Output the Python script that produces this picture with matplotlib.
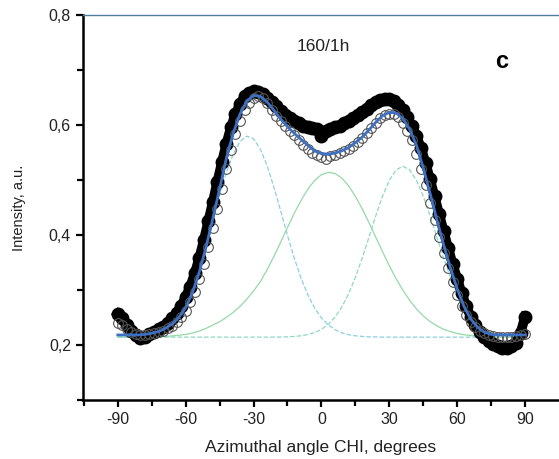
import numpy as np
import matplotlib
matplotlib.use('Agg')
import matplotlib.pyplot as plt
from matplotlib.ticker import MultipleLocator, FuncFormatter

plt.rcParams['font.family'] = ['Liberation Sans', 'DejaVu Sans']
plt.rcParams['axes.unicode_minus'] = False

# measured data, 2 degree steps
chi_data = np.arange(-90, 91, 2)
black_pts = [0.256, 0.248, 0.236, 0.225, 0.217, 0.213, 0.215, 0.220, 0.224, 0.228,
             0.233, 0.240, 0.248, 0.258, 0.271, 0.287, 0.306, 0.330, 0.358, 0.390,
             0.425, 0.460, 0.497, 0.532, 0.566, 0.596, 0.620, 0.638, 0.652, 0.659,
             0.662, 0.661, 0.656, 0.650, 0.642, 0.634, 0.625, 0.619, 0.613, 0.608,
             0.603, 0.599, 0.596, 0.594, 0.592, 0.580, 0.590, 0.593, 0.596, 0.599,
             0.603, 0.607, 0.612, 0.618, 0.624, 0.630, 0.637, 0.642, 0.646, 0.648,
             0.647, 0.643, 0.636, 0.628, 0.614, 0.598, 0.580, 0.558, 0.531, 0.501,
             0.470, 0.438, 0.407, 0.376, 0.347, 0.320, 0.294, 0.270, 0.251, 0.236,
             0.224, 0.214, 0.207, 0.202, 0.198, 0.195, 0.195, 0.197, 0.203, 0.222,
             0.251]
open_pts = [0.240, 0.236, 0.229, 0.224, 0.220, 0.218, 0.218, 0.219, 0.221, 0.223,
            0.226, 0.230, 0.235, 0.242, 0.251, 0.262, 0.278, 0.296, 0.320, 0.348,
            0.378, 0.412, 0.447, 0.484, 0.520, 0.554, 0.583, 0.607, 0.627, 0.641,
            0.650, 0.653, 0.649, 0.640, 0.628, 0.617, 0.607, 0.598, 0.590, 0.581,
            0.572, 0.564, 0.556, 0.549, 0.546, 0.542, 0.538, 0.543, 0.546, 0.549,
            0.553, 0.556, 0.562, 0.569, 0.576, 0.585, 0.595, 0.603, 0.612, 0.618,
            0.620, 0.620, 0.615, 0.604, 0.590, 0.572, 0.548, 0.520, 0.490, 0.459,
            0.428, 0.397, 0.368, 0.340, 0.315, 0.291, 0.270, 0.255, 0.242, 0.232,
            0.226, 0.221, 0.218, 0.216, 0.215, 0.214, 0.214, 0.215, 0.216, 0.218,
            0.220]

# fitted curve and its three components, 3 degree steps
chi_fit = np.arange(-90, 91, 3)
fit_total = [0.218, 0.218, 0.218, 0.218, 0.219, 0.221, 0.224, 0.230, 0.238, 0.250,
             0.268, 0.295, 0.332, 0.378, 0.430, 0.484, 0.540, 0.585, 0.620, 0.643,
             0.654, 0.652, 0.642, 0.627, 0.611, 0.597, 0.585, 0.574, 0.563, 0.553,
             0.548, 0.547, 0.549, 0.553, 0.559, 0.568, 0.578, 0.591, 0.605, 0.617,
             0.623, 0.622, 0.612, 0.592, 0.563, 0.522, 0.476, 0.428, 0.382, 0.340,
             0.302, 0.270, 0.247, 0.232, 0.223, 0.219, 0.218, 0.218, 0.218, 0.218,
             0.218]
peak_left = [0.214, 0.2145, 0.215, 0.216, 0.2177, 0.2206, 0.2254, 0.233, 0.2442, 0.2603,
             0.2821, 0.3104, 0.345, 0.385, 0.4286, 0.4727, 0.5137, 0.5472, 0.570, 0.5798,
             0.575, 0.556, 0.526, 0.4868, 0.4434, 0.3993, 0.3578, 0.3213, 0.2909, 0.2669,
             0.249, 0.2363, 0.2276, 0.222, 0.2185, 0.2164, 0.2153, 0.2146, 0.2143, 0.214,
             0.214, 0.214, 0.214, 0.214, 0.214, 0.214, 0.214, 0.214, 0.214, 0.214,
             0.214, 0.214, 0.214, 0.214, 0.214, 0.214, 0.214, 0.214, 0.214, 0.214,
             0.214]
peak_mid = [0.214, 0.214, 0.214, 0.214, 0.2141, 0.2143, 0.2146, 0.2152, 0.2162, 0.2175,
            0.219, 0.2215, 0.225, 0.230, 0.236, 0.242, 0.250, 0.259, 0.270, 0.283,
            0.298, 0.315, 0.337, 0.361, 0.387, 0.4136, 0.4394, 0.463, 0.4834, 0.4993,
            0.5097, 0.5139, 0.5118, 0.5034, 0.4893, 0.4703, 0.4476, 0.4224, 0.396, 0.3695,
            0.344, 0.3205, 0.2994, 0.2809, 0.2654, 0.2526, 0.2424, 0.2345, 0.2284, 0.2239,
            0.2207, 0.2184, 0.2169, 0.2158, 0.2151, 0.2147, 0.2144, 0.2142, 0.2141, 0.214,
            0.214]
peak_right = [0.214, 0.214, 0.214, 0.214, 0.214, 0.214, 0.214, 0.214, 0.214, 0.214,
              0.214, 0.214, 0.214, 0.214, 0.214, 0.214, 0.214, 0.214, 0.214, 0.214,
              0.214, 0.214, 0.214, 0.2141, 0.2143, 0.2146, 0.2153, 0.2165, 0.2187, 0.2223,
              0.2282, 0.2373, 0.2505, 0.2688, 0.2929, 0.3228, 0.3578, 0.396, 0.4347, 0.4704,
              0.4995, 0.5184, 0.525, 0.5184, 0.4995, 0.4704, 0.4347, 0.396, 0.3578, 0.3228,
              0.2929, 0.2688, 0.2505, 0.2373, 0.2282, 0.2223, 0.2187, 0.2165, 0.2153, 0.2146,
              0.2143]

fig = plt.figure(figsize=(5.59, 4.59), dpi=100)
ax = fig.add_axes([0.148, 0.129, 0.85, 0.838])

ax.plot(chi_fit, peak_left, '--', color='#8ccfe0', lw=0.9, zorder=1)
ax.plot(chi_fit, peak_mid, '-', color='#95d9a8', lw=0.9, zorder=1)
ax.plot(chi_fit, peak_right, '--', color='#8fd8c4', lw=0.9, zorder=1)

ax.plot(chi_data, black_pts, '-', color='black', lw=7, zorder=2)
ax.plot(chi_data, black_pts, 'o', color='black', ms=9, zorder=2)
ax.plot(chi_data, open_pts, 'o', mfc='none', mec='#555555', mew=0.8, ms=7, zorder=3)
ax.plot(chi_fit, fit_total, '-', color='#3d6fc2', lw=2, zorder=4)

ax.set_xlim(-105.5, 104.5)
ax.set_ylim(0.1, 0.8)
ax.xaxis.set_major_locator(MultipleLocator(30))
ax.xaxis.set_minor_locator(MultipleLocator(15))
ax.yaxis.set_major_locator(MultipleLocator(0.2))
ax.yaxis.set_minor_locator(MultipleLocator(0.1))
ax.yaxis.set_major_formatter(FuncFormatter(lambda v, p: ('%.1f' % v).replace('.', ',')))
ax.tick_params(which='both', direction='out', width=1.6, labelsize=11.5, labelcolor='#222222')
ax.tick_params(which='major', length=5)
ax.tick_params(which='minor', length=4)

for s in ['left', 'bottom']:
    ax.spines[s].set_linewidth(1.8)
ax.spines['right'].set_visible(False)
ax.spines['top'].set_color('#4d7d9c')
ax.spines['top'].set_linewidth(1)

ax.set_xlabel('Azimuthal angle CHI, degrees', fontsize=12.5, labelpad=10, color='#222222')
ax.set_ylabel('Intensity, a.u.', fontsize=10.5, labelpad=16, color='#222222')

ax.text(1, 0.743, '160/1h', fontsize=12.5, ha='center', va='center', color='#222222')
ax.text(79.5, 0.716, 'c', fontsize=17, fontweight='bold', ha='center', va='center')

fig.savefig('out.png', dpi=100)
